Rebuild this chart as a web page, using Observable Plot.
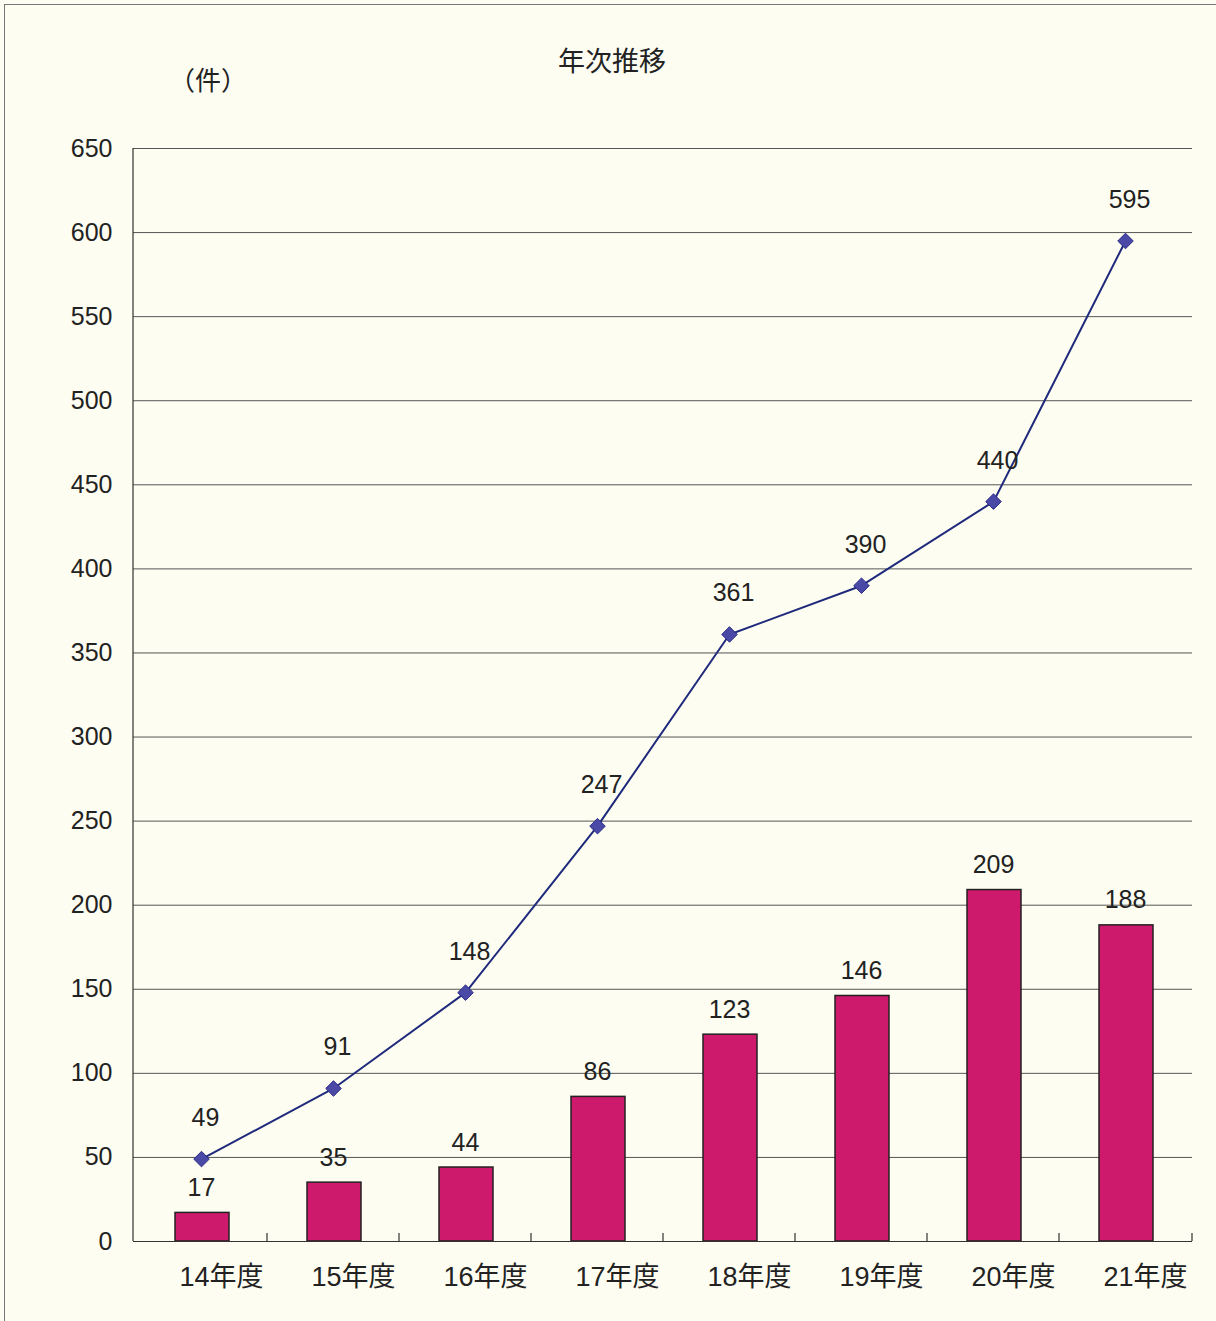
<!DOCTYPE html>
<html>
<head>
<meta charset="utf-8">
<script src="https://cdn.jsdelivr.net/npm/d3@7"></script>
<script src="https://cdn.jsdelivr.net/npm/@observablehq/plot@0.6"></script>
<style>
  html, body { margin: 0; padding: 0; background: #fdfdf1; }
  #wrap { position: relative; width: 1216px; height: 1321px; overflow: hidden; }
  #frame { position: absolute; left: 4px; top: 4px; width: 1300px; height: 1400px;
           border-left: 1.5px solid #777; border-top: 1.5px solid #777; }
  #title { position: absolute; left: 0; width: 1224px; top: 40px; text-align: center;
           font-family: "Noto Sans CJK JP", sans-serif; font-size: 27px; color: #222; }
  #unit { position: absolute; left: 169px; top: 60px;
          font-family: "Noto Sans CJK JP", sans-serif; font-size: 26px; color: #222; }
  #chart { position: absolute; left: 0; top: 0; }
</style>
</head>
<body>
<div id="wrap">
  <div id="frame"></div>
  <div id="title">年次推移</div>
  <div id="unit">（件）</div>
  <div id="chart"></div>
</div>
<script>
const years = ["14年度", "15年度", "16年度", "17年度", "18年度", "19年度", "20年度", "21年度"];
const yearly = [17, 35, 44, 86, 123, 146, 209, 188];
const cumulative = [49, 91, 148, 247, 361, 390, 440, 595];
const yTicks = [0, 50, 100, 150, 200, 250, 300, 350, 400, 450, 500, 550, 600, 650];

const data = years.map((y, i) => ({year: y, bar: yearly[i], total: cumulative[i]}));
const font = '"Liberation Sans", "Noto Sans CJK JP", sans-serif';

const chart = Plot.plot({
  width: 1216,
  height: 1321,
  marginLeft: 133,
  marginRight: 24,
  marginTop: 148,
  marginBottom: 80,
  style: {background: "transparent", fontFamily: font, color: "#222"},
  x: {domain: years, padding: 0, label: null},
  y: {domain: [0, 650], label: null},
  marks: [
    Plot.gridY(yTicks, {stroke: "#555", strokeOpacity: 1, strokeWidth: 1}),
    Plot.axisY(yTicks, {tickSize: 0, tickPadding: 21, fontSize: 25, label: null, fill: "#222"}),
    Plot.axisX({tickSize: 0, tickPadding: 25, dx: 20, fontSize: 27, label: null, fill: "#222",
                fontFamily: font}),
    Plot.barY(data, {x: "year", y: "bar", fill: "#cd1a6c", stroke: "#222", strokeWidth: 1.5,
                     insetLeft: 40, insetRight: 38}),
    Plot.ruleY([0], {stroke: "#333", strokeWidth: 1.2}),
    Plot.text(data, {x: "year", y: "bar", text: d => String(d.bar), dy: -25, fontSize: 25,
                     fill: "#222", lineAnchor: "middle"}),
    Plot.line(data, {x: "year", y: "total", stroke: "#1f2a7c", strokeWidth: 2}),
    Plot.dot(data, {x: "year", y: "total", symbol: "diamond2", r: 7, fill: "#4a4aa6",
                    stroke: "#2a2a88", strokeWidth: 1}),
    Plot.text(data, {x: "year", y: "total", text: d => String(d.total), dy: -41, dx: 4, fontSize: 25,
                     fill: "#222", lineAnchor: "middle"})
  ]
});

document.getElementById("chart").appendChild(chart);

// left axis line and category boundary ticks, derived from the plot's scales
const sx = chart.scale("x");
const sy = chart.scale("y");
const svg = d3.select(chart);
const x0 = sx.range[0], x1 = sx.range[1];
const yBottom = sy.apply(0), yTop = sy.apply(650);
const g = svg.append("g").attr("stroke", "#333").attr("stroke-width", 1.2);
g.append("line").attr("x1", x0).attr("x2", x0).attr("y1", yTop).attr("y2", yBottom);
const bounds = years.map(y => sx.apply(y)).concat([x1]);
bounds.slice(1).forEach(x => {
  g.append("line").attr("x1", x).attr("x2", x).attr("y1", yBottom).attr("y2", yBottom - 8);
});
</script>
</body>
</html>
